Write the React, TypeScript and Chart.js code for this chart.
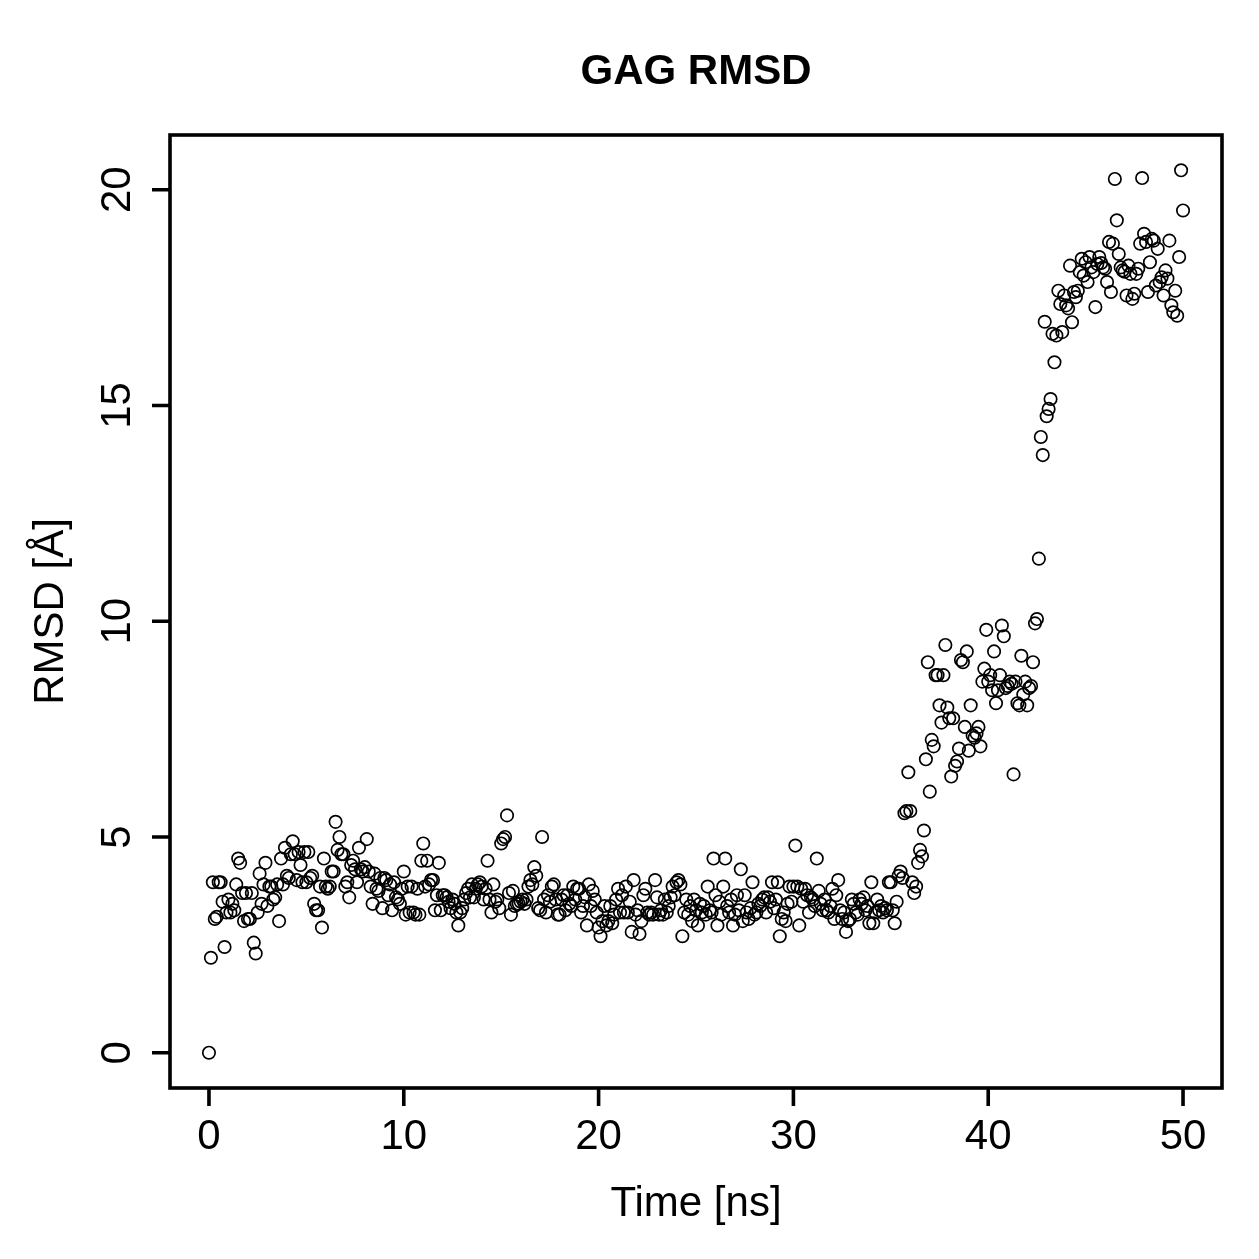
import React, { useEffect, useRef } from "react";
import { Chart, registerables } from "chart.js";

Chart.register(...registerables);

// Sampling interval of the trajectory frames (ns)
const sampleStepNs = 0.1;

// RMSD (Å) per frame, 0.0 – 34.9 ns: stable phase
const rmsdStable: number[] = [
  0, 2.2, 3.95, 3.1, 3.15, 3.95, 3.95, 3.5, 2.45, 3.25,
  3.55, 3.25, 3.45, 3.3, 3.9, 4.5, 4.4, 3.7, 3.05, 3.7,
  3.1, 3.1, 3.7, 2.55, 2.3, 3.25, 4.15, 3.45, 3.9, 4.4, 3.4,
  3.85, 3.85, 3.55, 3.6, 3.9, 3.05, 4.5, 3.9, 4.75, 4.1,
  4.05, 4.6, 4.9, 4.6, 4.0, 4.65, 4.35, 3.95, 4.65, 3.95,
  4.65, 4.05, 4.1, 3.45, 3.3, 3.3, 3.85, 2.9, 4.5, 3.85, 3.8,
  3.85, 4.2, 4.2, 5.35, 4.7, 5.0, 4.6, 4.6, 3.85, 3.95,
  3.6, 4.35, 4.45, 4.25, 3.95, 4.75, 4.25, 4.2, 4.3, 4.95,
  4.2, 3.85, 3.45, 4.15, 3.8, 3.75, 4.05, 3.35, 4.05, 4.0, 3.65,
  3.9, 3.3, 3.95, 3.6, 3.55, 3.45, 3.8, 4.2, 3.2, 3.85,
  3.25, 3.85, 3.25, 3.2, 3.8, 3.2, 4.45, 4.85, 3.85, 4.45,
  3.9, 4.0, 4.0, 3.3, 3.65, 4.4, 3.3, 3.65, 3.65, 3.6, 3.5,
  3.35, 3.55, 3.45, 3.25, 2.95, 3.25, 3.35, 3.55, 3.7, 3.8,
  3.6, 3.9, 3.6, 3.8, 3.9, 3.95, 3.85, 3.55, 3.8, 4.45,
  3.55, 3.25, 3.9, 3.5, 3.55, 3.35, 4.85, 4.95, 5.0, 5.5, 3.7,
  3.2, 3.75, 3.4, 3.45, 3.45, 3.5, 3.55, 3.45, 3.55, 3.85,
  4.0, 3.9, 4.3, 4.1, 3.35, 3.3, 5.0, 3.55, 3.25, 3.65,
  3.5, 3.85, 3.9, 3.55, 3.2, 3.2, 3.55, 3.65, 3.3, 3.65, 3.45,
  3.4, 3.85, 3.55, 3.8, 3.8, 3.25, 3.4, 3.6, 2.95, 3.9,
  3.4, 3.75, 3.55, 3.25, 2.9, 2.7, 3.05, 3.4, 2.95, 3.05,
  3.4, 3.0, 3.2, 3.55, 3.8, 3.25, 3.65, 3.25, 3.85, 3.25, 3.5,
  2.8, 4.0, 3.2, 3.3, 2.75, 3.05, 3.65, 3.8, 3.25, 3.2,
  3.25, 3.2, 4.0, 3.6, 3.2, 3.3, 3.2, 3.55, 3.25, 3.4,
  3.6, 3.85, 3.65, 3.95, 4.0, 3.9, 2.7, 3.25, 3.55, 3.2, 3.4,
  3.05, 3.55, 3.3, 2.95, 3.45, 3.25, 3.4, 3.2, 3.85, 3.3,
  3.25, 4.5, 3.65, 2.95, 3.5, 3.2, 3.85, 4.5, 3.4, 3.25,
  3.55, 2.95, 3.2, 3.65, 3.3, 4.25, 3.05, 3.65, 3.25, 3.1, 3.35,
  3.95, 3.2, 3.25, 3.45, 3.4, 3.55, 3.6, 3.25, 3.6, 3.5,
  3.95, 3.35, 3.55, 3.95, 2.7, 3.1, 3.25, 3.05, 3.45, 3.85,
  3.5, 3.85, 4.8, 3.85, 2.95, 3.8, 3.5, 3.8, 3.65, 3.25, 3.6,
  3.55, 3.4, 4.5, 3.75, 3.45, 3.3, 3.55, 3.3, 3.25, 3.4,
  3.8, 3.1, 3.65, 4.0, 3.3, 3.1, 3.25, 2.8, 3.05, 3.1,
  3.55, 3.45, 3.25, 3.2, 3.55, 3.45, 3.6, 3.3, 3.4, 3.0,
  3.95, 3.0, 3.25, 3.55, 3.3, 3.4, 3.25, 3.35, 3.3, 3.95,
];

// 35.0 – 42.8 ns: first conformational change
const rmsdTransition: number[] = [
  3.95, 3.3, 3.0, 3.5, 4.1, 4.2, 4.05, 5.55, 5.6, 6.5,
  5.6, 3.95, 3.7, 3.85, 4.4, 4.7, 4.55, 5.15, 6.8, 9.05,
  6.05, 7.25, 7.1, 8.75, 8.75, 8.05, 7.65, 8.75, 9.45, 8.0,
  7.75, 6.4, 7.75, 6.65, 6.75, 7.05, 9.1, 9.05, 7.55, 9.3,
  7.0, 8.05, 7.35, 7.3, 7.4, 7.55, 7.1, 8.6, 8.9, 9.8,
  8.6, 8.75, 8.4, 9.3, 8.1, 8.4, 8.75, 9.9, 9.65, 8.45,
  8.5, 8.6, 8.55, 6.45, 8.6, 8.1, 8.05, 9.2, 8.3, 8.6,
  8.05, 8.45, 8.5, 9.05, 9.95, 10.05, 11.45, 14.27, 13.85,
];

// 42.9 – 50.0 ns: second jump and plateau
const rmsdPlateau: number[] = [
  16.94,
  14.75, 14.92, 15.15, 16.66, 16.0, 16.62, 17.66, 17.35, 16.7, 17.55,
  17.32, 17.25, 18.24, 16.93, 17.63, 17.51, 17.66, 18.09, 18.4, 18.01,
  18.32, 17.86, 18.44, 18.2, 18.09, 17.28, 18.28, 18.44, 18.3, 18.2,
  18.17, 17.86, 18.79, 17.63, 18.75, 20.25, 19.29, 18.51, 18.2, 18.13,
  18.1, 17.55, 18.24, 18.05, 17.47, 17.59, 18.05, 18.17, 18.75, 20.27,
  18.98, 18.79, 17.63, 18.32, 18.86, 18.82, 17.78, 18.63, 17.86, 17.97,
  17.55, 18.13, 17.94, 18.82, 17.32, 17.16, 17.66, 17.08, 18.44, 20.45,
  19.52,
];

const xTicks = [0, 10, 20, 30, 40, 50];
const yTicks = [0, 5, 10, 15, 20];

const chartTitle = "GAG RMSD";
const xTitle = "Time [ns]";
const yTitle = "RMSD [Å]";

const FONT = '"Liberation Sans", Arial, Helvetica, sans-serif';
const LINE_W = 3.6;

const rmsd = [...rmsdStable, ...rmsdTransition, ...rmsdPlateau];
const points = rmsd.map((v, i) => ({ x: Math.round(i * sampleStepNs * 10) / 10, y: v }));

// R-style 4% axis extension around the data range
function paddedRange(vals: number[]) {
  const lo = Math.min(...vals);
  const hi = Math.max(...vals);
  const pad = (hi - lo) * 0.04;
  return [lo - pad, hi + pad];
}

const framePlugin = {
  id: "rFrame",
  afterDraw(chart: any) {
    const { ctx, chartArea: a, scales } = chart;
    const x = scales.x;
    const y = scales.y;
    ctx.save();
    ctx.strokeStyle = "#000";
    ctx.lineWidth = LINE_W;
    ctx.lineJoin = "miter";
    ctx.strokeRect(a.left, a.top, a.right - a.left, a.bottom - a.top);

    // tick marks, outward from the frame
    ctx.lineCap = "butt";
    ctx.beginPath();
    xTicks.forEach((v) => {
      const px = x.getPixelForValue(v);
      ctx.moveTo(px, a.bottom);
      ctx.lineTo(px, a.bottom + 18);
    });
    yTicks.forEach((v) => {
      const py = y.getPixelForValue(v);
      ctx.moveTo(a.left, py);
      ctx.lineTo(a.left - 18, py);
    });
    ctx.stroke();

    ctx.fillStyle = "#000";
    ctx.font = `42px ${FONT}`;
    ctx.textAlign = "center";
    ctx.textBaseline = "alphabetic";
    xTicks.forEach((v) => ctx.fillText(String(v), x.getPixelForValue(v), 1149));
    ctx.fillText(xTitle, (a.left + a.right) / 2, 1216);

    yTicks.forEach((v) => {
      ctx.save();
      ctx.translate(130, y.getPixelForValue(v));
      ctx.rotate(-Math.PI / 2);
      ctx.fillText(String(v), 0, 0);
      ctx.restore();
    });

    ctx.save();
    ctx.translate(63, (a.top + a.bottom) / 2);
    ctx.rotate(-Math.PI / 2);
    ctx.fillText(yTitle, 0, 0);
    ctx.restore();

    ctx.font = `bold 42px ${FONT}`;
    ctx.fillText(chartTitle, (a.left + a.right) / 2, 84);
    ctx.restore();
  },
};

export default function App() {
  const canvasRef = useRef<HTMLCanvasElement | null>(null);

  useEffect(() => {
    const canvas = canvasRef.current;
    if (!canvas) return;
    const [xMin, xMax] = paddedRange(points.map((p) => p.x));
    const [yMin, yMax] = paddedRange(rmsd);

    const chart = new Chart(canvas, {
      type: "scatter",
      data: {
        datasets: [
          {
            data: points,
            showLine: false,
            pointStyle: "circle",
            pointRadius: 6.2,
            pointHoverRadius: 6.2,
            pointBorderWidth: 1.7,
            pointBorderColor: "#000",
            pointBackgroundColor: "rgba(0,0,0,0)",
          },
        ],
      },
      options: {
        responsive: false,
        animation: false,
        devicePixelRatio: 1,
        events: [],
        layout: { padding: { left: 170, right: 37, top: 135, bottom: 171 } },
        plugins: { legend: { display: false }, tooltip: { enabled: false }, title: { display: false } },
        scales: {
          x: {
            type: "linear",
            min: xMin,
            max: xMax,
            afterFit: (s: any) => {
              s.height = 0;
            },
            afterBuildTicks: (s: any) => {
              s.ticks = xTicks.map((v) => ({ value: v }));
            },
            ticks: { display: false },
            grid: { display: false },
            border: { display: false },
          },
          y: {
            type: "linear",
            min: yMin,
            max: yMax,
            afterFit: (s: any) => {
              s.width = 0;
            },
            afterBuildTicks: (s: any) => {
              s.ticks = yTicks.map((v) => ({ value: v }));
            },
            ticks: { display: false },
            grid: { display: false },
            border: { display: false },
          },
        },
      },
      plugins: [framePlugin],
    });
    return () => chart.destroy();
  }, []);

  return (
    <div style={{ position: "absolute", left: 0, top: 0, width: 1259, height: 1259, background: "#fff" }}>
      <canvas ref={canvasRef} width={1259} height={1259} style={{ display: "block" }} />
    </div>
  );
}
